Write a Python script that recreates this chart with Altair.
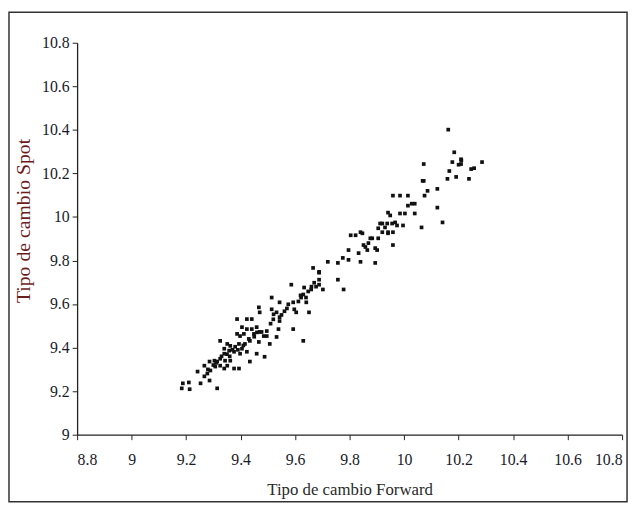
import altair as alt
import pandas as pd

forward = [
    9.188, 9.210, 9.184, 9.213, 9.314, 9.253, 9.267, 9.286, 9.267, 9.289,
    9.286, 9.304, 9.314, 9.325, 9.340, 9.307, 9.325, 9.343, 9.362, 9.351,
    9.376, 9.394, 9.340, 9.340, 9.358, 9.362, 9.380, 9.394, 9.351, 9.376,
    9.398, 9.405, 9.423, 9.434, 9.459, 9.488, 9.416, 9.434, 9.412, 9.449,
    9.467, 9.325, 9.387, 9.477, 9.496, 9.507, 9.242, 9.278, 9.405, 9.423,
    9.441, 9.459, 9.398, 9.470, 9.485, 9.496, 9.423, 9.441, 9.387, 9.467,
    9.470, 9.514, 9.521, 9.532, 9.543, 9.543, 9.561, 9.575, 9.514, 9.543,
    9.593, 9.597, 9.604, 9.612, 9.622, 9.593, 9.630, 9.532, 9.539, 9.651,
    9.641, 9.630, 9.648, 9.659, 9.677, 9.688, 9.702, 9.586, 9.688, 9.670,
    9.633, 9.688, 9.688, 9.666, 9.720, 9.757, 9.775, 9.796, 9.757, 9.778,
    9.796, 9.833, 9.840, 9.858, 9.865, 9.883, 9.901, 9.894, 9.804, 9.822,
    9.847, 9.869, 9.905, 9.912, 9.930, 9.941, 9.956, 9.959, 10.075, 10.086,
    10.068, 10.122, 10.122, 10.141, 10.159, 10.014, 9.959, 9.985, 10.014, 10.028,
    10.039, 10.003, 9.985, 9.941, 9.949, 9.967, 9.996, 9.974, 9.938, 9.920,
    9.905, 9.920, 9.941, 9.959, 10.039, 10.064, 9.840, 9.876, 9.894, 9.851,
    10.162, 10.184, 10.209, 10.209, 10.177, 10.286, 10.257, 10.246, 10.166, 10.191,
    10.238, 10.072, 10.072,
    9.360, 9.370, 9.390, 9.410, 9.350, 9.330, 9.310, 9.300, 9.280, 9.450,
    9.460, 9.430, 9.510, 9.520, 9.550, 9.570, 9.620, 9.640, 9.660, 10.200,
    10.210,
]

spot = [
    9.236, 9.240, 9.213, 9.209, 9.213, 9.236, 9.268, 9.249, 9.317, 9.295,
    9.336, 9.340, 9.336, 9.317, 9.304, 9.313, 9.349, 9.340, 9.340, 9.317,
    9.304, 9.304, 9.395, 9.372, 9.386, 9.408, 9.404, 9.417, 9.417, 9.381,
    9.372, 9.395, 9.381, 9.336, 9.372, 9.358, 9.417, 9.431, 9.463, 9.463,
    9.426, 9.431, 9.463, 9.472, 9.453, 9.417, 9.290, 9.281, 9.494, 9.485,
    9.485, 9.494, 9.453, 9.472, 9.453, 9.476, 9.531, 9.531, 9.531, 9.585,
    9.562, 9.576, 9.553, 9.562, 9.540, 9.522, 9.567, 9.599, 9.630, 9.608,
    9.608, 9.576, 9.562, 9.612, 9.630, 9.485, 9.431, 9.449, 9.485, 9.562,
    9.608, 9.644, 9.658, 9.667, 9.680, 9.689, 9.667, 9.689, 9.744, 9.698,
    9.676, 9.712, 9.748, 9.766, 9.794, 9.789, 9.812, 9.803, 9.712, 9.667,
    9.848, 9.834, 9.794, 9.862, 9.848, 9.902, 9.848, 9.789, 9.916, 9.916,
    9.925, 9.880, 9.902, 9.970, 9.952, 9.930, 9.970, 9.871, 10.098, 10.120,
    10.166, 10.129, 10.043, 9.975, 10.175, 10.098, 10.098, 10.098, 10.052, 10.061,
    10.061, 10.016, 10.016, 10.020, 10.007, 9.975, 9.961, 9.961, 9.970, 9.970,
    9.948, 9.930, 9.925, 9.930, 10.016, 9.952, 9.930, 9.902, 9.857, 9.871,
    10.401, 10.297, 10.265, 10.243, 10.252, 10.252, 10.224, 10.220, 10.211, 10.184,
    10.175, 10.243, 10.166,
    9.360, 9.390, 9.390, 9.410, 9.370, 9.360, 9.330, 9.320, 9.300, 9.450,
    9.470, 9.440, 9.510, 9.530, 9.550, 9.580, 9.640, 9.630, 9.680, 10.240,
    10.260,
]

x_ticks = [8.8, 9.0, 9.2, 9.4, 9.6, 9.8, 10.0, 10.2, 10.4, 10.6, 10.8]
y_ticks = [9.0, 9.2, 9.4, 9.6, 9.8, 10.0, 10.2, 10.4, 10.6, 10.8]

df = pd.DataFrame({"forward": forward, "spot": spot})

points = alt.Chart(df).mark_square(size=14, color="#111111", opacity=1).encode(
    x=alt.X(
        "forward:Q",
        scale=alt.Scale(domain=[8.8, 10.8], nice=False, zero=False),
        axis=alt.Axis(
            values=x_ticks,
            format="~g",
            title="Tipo de cambio Forward",
            titleColor="#2a2a2a",
            titleFontSize=17,
            titleFontWeight="normal",
            titlePadding=15,
            labelPadding=12,
        ),
    ),
    y=alt.Y(
        "spot:Q",
        scale=alt.Scale(domain=[9.0, 10.8], nice=False, zero=False),
        axis=alt.Axis(
            values=y_ticks,
            format="~g",
            title="Tipo de cambio Spot",
            titleColor="#6b1d1d",
            titleFontSize=20,
            titleFontWeight="normal",
            titlePadding=8,
            titleY=180,
            labelPadding=3,
        ),
    ),
)

frame = alt.Chart(alt.Data(values=[{"k": 1}])).mark_rect(
    filled=False, stroke="#333333", strokeWidth=1.5
).encode(
    x=alt.value(-69), x2=alt.value(557), y=alt.value(-31), y2=alt.value(465)
)

chart = (
    alt.layer(frame, points)
    .properties(
        width=552,
        height=397,
        autosize=alt.AutoSizeParams(type="none"),
        padding={"left": 70, "top": 32, "right": 8, "bottom": 70},
        background="white",
    )
    .configure_view(stroke=None)
    .configure_axis(
        grid=False,
        domainColor="#222222",
        domainWidth=1.3,
        tickColor="#222222",
        tickSize=5,
        labelFont="Liberation Serif",
        titleFont="Liberation Serif",
        labelFontSize=16,
        labelColor="#1a1a2a",
    )
)

chart.save("out.html", embed_options={"renderer": "svg", "actions": False})
